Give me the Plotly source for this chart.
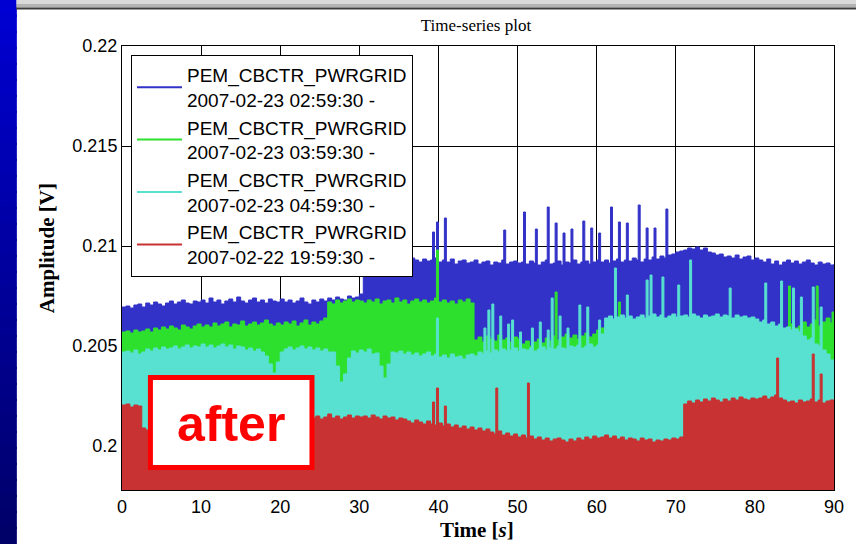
import numpy as np
import plotly.graph_objects as go

# Sample grid of the envelope readings, seconds
t_base = np.arange(0.0, 90.25, 0.5)

# Upper envelopes of each channel, mV (one value per 0.5 s)
blue_mv = [
    206.95, 207.0, 206.9, 207.05, 207.1, 206.95, 207.15, 207.05, 207.2, 207.1, 207.0,
    207.15, 207.25, 207.1, 207.2, 207.3, 207.15, 207.1, 207.25, 207.2, 207.3,
    207.15, 207.4, 207.2, 207.3, 207.1, 207.25, 207.35, 207.2, 207.45, 207.25,
    207.15, 207.3, 207.4, 207.2, 207.3, 207.15, 207.35, 207.25, 207.2, 207.35,
    207.2, 207.3, 207.15, 207.25, 207.4, 207.2, 207.1, 207.3, 207.2, 207.35,
    207.25, 207.4, 207.3, 207.45, 207.35, 207.3, 207.5, 207.4, 207.45, 207.6,
    209.2, 209.35, 209.25, 209.4, 209.3, 209.2, 209.35, 209.25, 209.3, 209.15,
    209.3, 209.25, 209.4, 209.3, 209.2, 209.35, 209.25, 209.3, 209.4, 209.2,
    209.3, 209.2, 209.35, 209.1, 209.25, 209.3, 209.15, 209.2, 209.3, 209.1,
    209.2, 209.25, 209.05, 209.2, 209.15, 209.3, 209.1, 209.2, 209.25, 209.15,
    209.2, 209.1, 209.25, 209.15, 209.05, 209.2, 209.3, 209.1, 209.15, 209.25,
    209.05, 209.2, 209.15, 209.3, 209.1, 209.2, 209.25, 209.1, 209.2, 209.3,
    209.2, 209.3, 209.15, 209.25, 209.35, 209.2, 209.3, 209.25, 209.4, 209.3,
    209.2, 209.35, 209.3, 209.45, 209.35, 209.5, 209.4, 209.55, 209.6, 209.7,
    209.75, 209.8, 209.9, 209.85, 209.95, 209.8, 209.9, 209.7, 209.65, 209.55,
    209.6, 209.45, 209.5, 209.4, 209.55, 209.35, 209.45, 209.5, 209.3, 209.4,
    209.3, 209.2, 209.35, 209.1, 209.25, 209.05, 209.2, 209.3, 209.15, 209.25,
    209.1, 209.2, 209.3, 209.15, 209.05, 209.2, 209.1, 209.15, 209.05, 209.1,
]
green_mv = [
    205.7, 205.75, 205.65, 205.8, 205.7, 205.75, 205.85, 205.7, 205.9, 205.8, 205.95,
    205.85, 206.0, 205.9, 205.8, 206.05, 205.95, 205.85, 206.0, 206.1, 205.95,
    206.05, 205.95, 206.15, 206.0, 206.1, 206.2, 205.95, 206.1, 206.05, 206.25,
    206.0, 206.1, 206.2, 206.05, 206.15, 206.3, 206.1, 206.0, 206.15, 206.05,
    206.2, 206.1, 206.25, 206.0, 206.15, 206.3, 206.05, 206.2, 206.1, 206.25,
    206.4, 207.2, 207.1, 207.3, 207.15, 207.25, 207.35, 207.2, 207.3, 207.25,
    207.15, 207.3, 207.2, 207.35, 207.1, 207.25, 207.3, 207.15, 207.4, 207.2,
    207.3, 207.1, 207.25, 207.35, 207.2, 207.3, 207.15, 207.25, 207.4, 207.2,
    207.3, 207.15, 207.25, 207.1, 207.3, 207.2, 207.35, 207.15, 205.3, 205.45,
    205.2, 205.5, 205.35, 205.25, 205.55, 205.3, 205.4, 205.2, 205.45, 205.35,
    205.1, 205.25, 205.0, 205.2, 205.35, 205.15, 205.4, 205.25, 205.5, 205.3,
    205.45, 205.6, 205.4, 205.55, 205.35, 205.5, 205.65, 205.45, 205.6, 205.8,
    205.9, 205.7, 205.6, 205.5, 205.6, 205.45, 205.55, 205.5, 205.4, 205.6,
    205.5, 205.45, 205.55, 205.4, 205.5, 205.6, 205.45, 205.5, 205.4, 205.55,
    205.5, 205.6, 205.45, 205.55, 205.5, 205.4, 205.6, 205.5, 205.45, 205.55,
    205.5, 205.6, 205.4, 205.5, 205.55, 205.45, 205.6, 205.5, 205.55, 205.6,
    205.7, 205.6, 205.75, 205.8, 205.7, 205.9, 205.8, 205.95, 206.1, 205.9,
    206.0, 206.2, 205.95, 206.1, 206.3, 206.0, 206.2, 206.4, 206.15, 206.5,
]
cyan_mv = [
    204.7, 204.75, 204.65, 204.8, 204.6, 204.7, 204.85, 204.75, 204.9, 204.8, 204.95,
    204.85, 204.9, 205.0, 204.85, 204.95, 205.05, 204.9, 205.0, 204.95, 205.1,
    204.95, 205.05, 204.9, 205.0, 205.1, 204.95, 205.05, 204.85, 205.0, 204.95,
    204.8, 204.9, 204.75, 204.85, 204.7, 204.5, 204.1, 203.65, 204.2, 204.7,
    204.85, 204.95, 204.8, 204.9, 205.0, 204.85, 204.95, 204.8, 204.9, 204.75,
    204.85, 204.7, 204.7, 204.0, 203.2, 203.6, 204.4, 204.75, 204.65, 204.8,
    204.7, 204.85, 204.6, 204.65, 204.0, 203.4, 204.1, 204.7, 204.65, 204.75,
    204.6, 204.7, 204.55, 204.65, 204.5, 204.6, 204.7, 204.5, 204.6, 204.45,
    204.55, 204.4, 204.6, 204.45, 204.5, 204.35, 204.55, 204.6, 204.5, 204.7,
    204.6, 204.75, 204.65, 204.8, 204.7, 204.85, 204.75, 204.8, 204.9, 204.75,
    204.85, 204.8, 204.9, 204.75, 204.85, 204.95, 204.8, 204.9, 204.85, 205.0,
    204.9, 204.85, 205.0, 204.95, 205.05, 204.9, 205.0, 205.1, 204.95, 205.05,
    205.6, 206.4, 206.5, 206.35, 206.45, 206.55, 206.4, 206.5, 206.35, 206.45,
    206.55, 206.4, 206.5, 206.6, 206.45, 206.55, 206.4, 206.5, 206.6, 206.45,
    206.5, 206.55, 206.45, 206.6, 206.5, 206.4, 206.55, 206.45, 206.5, 206.6,
    206.45, 206.55, 206.5, 206.4, 206.55, 206.45, 206.5, 206.4, 206.45, 206.35,
    206.2, 206.3, 206.1, 206.2, 206.0, 206.1, 205.9, 205.95, 205.8, 205.85,
    205.7, 205.5, 205.3, 205.4, 205.1, 205.0, 204.8, 204.6, 204.3, 204.1,
]
red_mv = [
    202.05, 202.1, 201.95, 202.05, 202.0, 200.9, 200.8, 201.5, 201.7, 201.8, 201.65,
    201.75, 201.6, 201.7, 201.55, 201.65, 201.7, 201.6, 201.5, 201.65, 201.55,
    201.6, 201.5, 201.55, 201.45, 201.6, 201.5, 201.4, 201.55, 201.45, 201.5,
    201.4, 201.5, 201.35, 201.45, 201.4, 201.3, 201.45, 201.35, 201.4, 201.3,
    201.4, 201.35, 201.25, 201.4, 201.3, 201.45, 201.55, 201.4, 201.5, 201.35,
    201.45, 201.6, 201.4, 201.5, 201.35, 201.45, 201.55, 201.4, 201.5, 201.45,
    201.5, 201.4, 201.55, 201.45, 201.35, 201.5, 201.4, 201.45, 201.3, 201.4,
    201.35, 201.25, 201.15, 201.3, 201.2, 201.1, 201.25, 201.1, 201.05, 201.15,
    201.0, 201.1, 200.95, 201.05, 200.9, 201.0, 200.85, 200.95, 200.8, 200.9,
    200.75, 200.85, 200.7, 200.6, 200.75, 200.55, 200.65, 200.5, 200.6, 200.45,
    200.55, 200.4, 200.5, 200.35, 200.45, 200.3, 200.4, 200.25, 200.35, 200.4,
    200.3, 200.2, 200.35, 200.25, 200.4, 200.3, 200.45, 200.35, 200.5, 200.4,
    200.45, 200.55, 200.4, 200.5, 200.35, 200.45, 200.3, 200.4, 200.35, 200.25,
    200.4, 200.3, 200.35, 200.2, 200.3, 200.25, 200.35, 200.3, 200.4, 200.35,
    200.45, 202.1, 202.25, 202.15, 202.3, 202.2, 202.35, 202.25, 202.4, 202.3,
    202.2, 202.35, 202.25, 202.4, 202.3, 202.45, 202.35, 202.3, 202.4, 202.35,
    202.4, 202.5, 202.35, 202.45, 202.55, 202.4, 202.3, 202.2, 202.25, 202.15,
    202.3, 202.2, 202.25, 202.35, 202.2, 202.3, 202.15, 202.25, 202.3, 202.2,
]

# Short transients (time s, peak mV) on each channel
blue_spk_t = [39.25, 39.75, 40.75, 48.25, 50.75, 52.25, 53.75, 54.75, 55.75, 56.75,
              58.25, 59.25, 60.25, 61.75, 62.75, 63.75, 65.25, 66.25, 67.25, 68.75]
blue_spk_v = [210.7, 211.2, 211.4, 210.8, 211.7, 210.85, 211.95, 211.15, 210.65, 210.85,
              211.25, 210.9, 210.65, 211.95, 211.2, 211.15, 212.05, 210.9, 210.9, 211.85]
green_spk_t = [39.75, 54.75, 62.75, 84.25, 87.75, 89.75]
green_spk_v = [209.8, 207.7, 207.2, 208.0, 208.0, 206.7]
cyan_spk_t = [39.75, 45.75, 46.25, 46.75, 47.75, 48.75, 49.25, 50.25, 51.75, 52.75,
              53.75, 54.25, 55.25, 56.25, 57.75, 58.75, 60.25, 62.25, 63.75, 66.25,
              66.75, 68.25, 70.25, 71.75, 76.75, 81.25, 83.25, 84.75, 85.75, 87.25, 88.25]
cyan_spk_v = [206.4, 205.9, 206.8, 207.1, 206.5, 206.1, 206.3, 205.7, 205.9, 206.2,
              205.8, 207.4, 206.5, 205.9, 207.05, 206.95, 206.3, 208.9, 207.55, 208.3,
              208.55, 208.45, 208.05, 209.3, 207.9, 208.15, 208.25, 207.9, 207.45, 207.95, 206.95]
red_spk_t = [39.25, 39.75, 40.75, 47.25, 51.25, 82.75, 87.25, 88.25]
red_spk_v = [202.2, 202.9, 202.0, 202.9, 203.15, 204.4, 204.6, 203.6]

channel = "PEM_CBCTR_PWRGRID"
start_times = ["2007-02-23 02:59:30", "2007-02-23 03:59:30",
               "2007-02-23 04:59:30", "2007-02-22 19:59:30"]
colors = ["#3232c8", "#2ee02e", "#58e0d0", "#c83232"]

x_ticks = [0, 10, 20, 30, 40, 50, 60, 70, 80, 90]
y_ticks = [0.2, 0.205, 0.21, 0.215, 0.22]
y_tick_text = ["0.2", "0.205", "0.21", "0.215", "0.22"]


def merged(base_v, spk_t, spk_v):
    t = np.concatenate([t_base, np.asarray(spk_t, float)])
    v = np.concatenate([np.asarray(base_v, float), np.asarray(spk_v, float)]) / 1000.0
    order = np.argsort(t, kind="stable")
    return t[order], v[order]


series = [
    merged(blue_mv, blue_spk_t, blue_spk_v),
    merged(green_mv, green_spk_t, green_spk_v),
    merged(cyan_mv, cyan_spk_t, cyan_spk_v),
    merged(red_mv, red_spk_t, red_spk_v),
]

fig = go.Figure()

# Dense oscillating records: each band reaches below the axis floor
for (t, v), c in zip(series, colors):
    fig.add_trace(go.Scatter(
        x=t, y=v, mode="lines", line=dict(color=c, width=1, shape="hv"),
        fill="tozeroy", fillcolor=c, showlegend=False, hoverinfo="skip"))

# Legend entries drawn as plain line samples
for i, (c, st) in enumerate(zip(colors, start_times)):
    fig.add_trace(go.Scatter(
        x=[None], y=[None], mode="lines", line=dict(color=c, width=2),
        name=f"{channel}<br>{st} -", legendgroup=f"g{i}"))

# Page geometry (pixels)
W_PX, H_PX = 856, 544
L, R, T, B = 122, 836, 46, 490


def px_x(px):
    return (px - L) / (R - L)


def px_y(py):
    return (B - py) / (B - T)


shapes = []
# Slide side strip with vertical blue shading
n_bands = 34
for k in range(n_bands):
    f = k / (n_bands - 1)
    b = int(round(210 - f * 105))
    y0 = k * H_PX / n_bands - 1
    y1 = (k + 1) * H_PX / n_bands + 1
    shapes.append(dict(type="rect", xref="paper", yref="paper",
                       x0=px_x(-4), x1=px_x(16), y0=px_y(y1), y1=px_y(y0),
                       fillcolor=f"rgb(0,0,{b})", line=dict(color=f"rgb(0,0,{b})", width=1),
                       layer="below"))
# Window header bar
shapes.append(dict(type="rect", xref="paper", yref="paper",
                   x0=px_x(16), x1=px_x(W_PX + 4), y0=px_y(4), y1=px_y(-2),
                   fillcolor="#dadada", line=dict(width=0), layer="below"))
shapes.append(dict(type="rect", xref="paper", yref="paper",
                   x0=px_x(16), x1=px_x(W_PX + 4), y0=px_y(7.5), y1=px_y(4),
                   fillcolor="#b4b4b4", line=dict(width=0), layer="below"))
shapes.append(dict(type="line", xref="paper", yref="paper",
                   x0=px_x(16), x1=px_x(W_PX + 4), y0=px_y(8.5), y1=px_y(8.5),
                   line=dict(color="#3c3c3c", width=2), layer="below"))
# Boxed label
shapes.append(dict(type="rect", xref="paper", yref="paper",
                   x0=px_x(150.5), x1=px_x(312.5), y0=px_y(467.5), y1=px_y(377.5),
                   fillcolor="white", line=dict(color="#ff0000", width=5), layer="above"))

annotations = [
    dict(text="<b>after</b>", xref="paper", yref="paper", x=px_x(231), y=px_y(424),
         showarrow=False, font=dict(family="Liberation Sans", size=50, color="#ff0000"),
         xanchor="center", yanchor="middle"),
    dict(text="<b>Amplitude [V]</b>", xref="paper", yref="paper", x=px_x(47), y=px_y(248),
         textangle=-90, showarrow=False,
         font=dict(family="Liberation Serif", size=21, color="black"),
         xanchor="center", yanchor="middle"),
    dict(text="<b>Time [<i>s</i>]</b>", xref="paper", yref="paper", x=px_x(478), y=px_y(530),
         showarrow=False, font=dict(family="Liberation Serif", size=21, color="black"),
         xanchor="center", yanchor="middle"),
]

fig.update_layout(
    width=W_PX, height=H_PX, autosize=False,
    margin=dict(l=L, r=W_PX - R, t=T, b=H_PX - B, pad=0),
    paper_bgcolor="white", plot_bgcolor="white",
    title=dict(text="Time-series plot", x=px_x(477), xref="paper", xanchor="center",
               y=1 - 25 / H_PX, yref="container", yanchor="middle",
               font=dict(family="Liberation Serif", size=17, color="black")),
    xaxis=dict(range=[0, 90], tickvals=x_ticks, showgrid=True, gridcolor="black",
               gridwidth=1, zeroline=False, showline=True, mirror=True,
               linecolor="black", linewidth=1, ticks="",
               tickfont=dict(family="Liberation Sans", size=18, color="black")),
    yaxis=dict(range=[0.1978, 0.22], tickvals=y_ticks, ticktext=y_tick_text,
               showgrid=True, gridcolor="black", gridwidth=1, zeroline=False,
               showline=True, mirror=True, linecolor="black", linewidth=1, ticks="",
               tickfont=dict(family="Liberation Sans", size=18, color="black")),
    legend=dict(x=px_x(131), y=px_y(55), xanchor="left", yanchor="top",
                bgcolor="white", bordercolor="black", borderwidth=1,
                font=dict(family="Liberation Sans", size=19, color="black"),
                tracegroupgap=0, itemwidth=45),
    shapes=shapes, annotations=annotations,
)

fig.write_html("out.html")
